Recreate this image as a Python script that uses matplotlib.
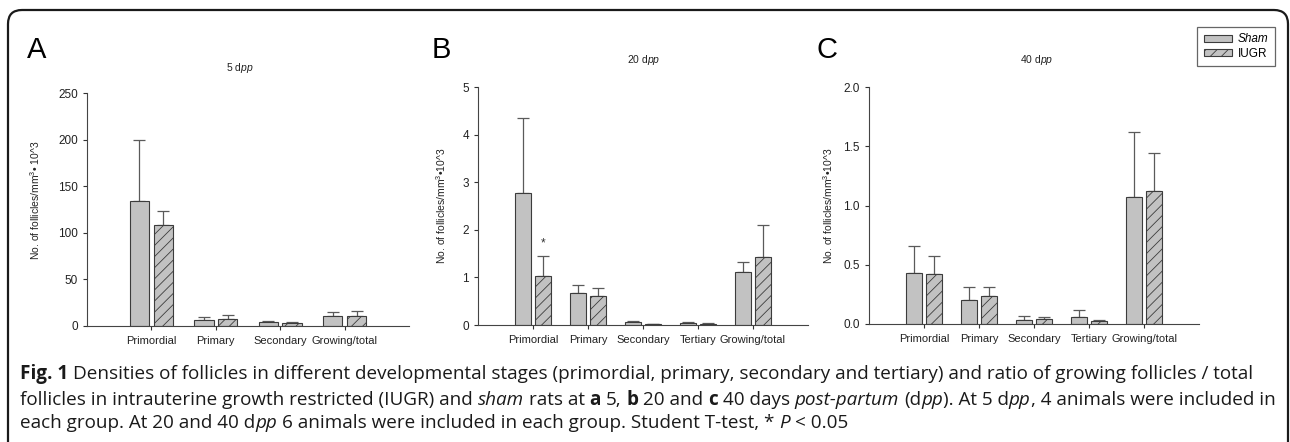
import matplotlib
matplotlib.use("Agg")
from matplotlib import pyplot as plt
from matplotlib.patches import FancyBboxPatch, Patch
from matplotlib.transforms import IdentityTransform
import numpy as np

plt.rcParams['font.family'] = ['Liberation Sans', 'DejaVu Sans']
plt.rcParams['mathtext.fontset'] = 'custom'
plt.rcParams['mathtext.rm'] = 'Liberation Sans'
plt.rcParams['mathtext.it'] = 'Liberation Sans:italic'
plt.rcParams['mathtext.default'] = 'regular'
plt.rcParams['hatch.linewidth'] = 0.6

# Panel A: 5 dpp
cats_a = ["Primordial", "Primary", "Secondary", "Growing/total"]
sham_a = [134.5, 6.5, 4.0, 10.4]
sham_a_err = [65.3, 3.5, 1.0, 4.6]
iugr_a = [108.0, 7.9, 3.2, 11.1]
iugr_a_err = [15.0, 3.6, 1.1, 4.9]

# Panel B: 20 dpp
cats_b = ["Primordial", "Primary", "Secondary", "Tertiary", "Growing/total"]
sham_b = [2.77, 0.67, 0.056, 0.05, 1.11]
sham_b_err = [1.58, 0.16, 0.034, 0.02, 0.21]
iugr_b = [1.02, 0.60, 0.02, 0.03, 1.43]
iugr_b_err = [0.42, 0.18, 0.005, 0.015, 0.67]

# Panel C: 40 dpp
cats_c = ["Primordial", "Primary", "Secondary", "Tertiary", "Growing/total"]
sham_c = [0.43, 0.20, 0.034, 0.062, 1.074]
sham_c_err = [0.23, 0.11, 0.033, 0.056, 0.546]
iugr_c = [0.42, 0.235, 0.042, 0.025, 1.122]
iugr_c_err = [0.15, 0.075, 0.017, 0.011, 0.318]

W, H = 1290, 442
fig = plt.figure(figsize=(W / 100, H / 100), dpi=100)

BAR_FC = '#c2c2c2'
EDGE = '#3c3c3c'
ERR_C = '#5a5a5a'


def px_axes(left, top, right, bottom):
    return fig.add_axes([left / W, 1 - bottom / H, (right - left) / W, (bottom - top) / H])


def draw_panel(ax, cats, sham, sham_err, iugr, iugr_err, ymax, yticks, ylabel):
    x = np.arange(1, len(cats) + 1)
    off, bw = 0.185, 0.3
    ax.bar(x - off, sham, bw, color=BAR_FC, edgecolor=EDGE, linewidth=0.8, zorder=2)
    ax.bar(x + off, iugr, bw, color=BAR_FC, edgecolor=EDGE, linewidth=0.8,
           hatch='///', zorder=2)
    ax.errorbar(x - off, sham, yerr=[np.zeros(len(x)), sham_err], fmt='none',
                ecolor=ERR_C, elinewidth=0.9, capsize=4, capthick=0.9, zorder=1)
    ax.errorbar(x + off, iugr, yerr=[np.zeros(len(x)), iugr_err], fmt='none',
                ecolor=ERR_C, elinewidth=0.9, capsize=4, capthick=0.9, zorder=1)
    ax.set_xlim(0, len(cats) + 1)
    ax.set_ylim(0, ymax)
    ax.set_xticks(x)
    ax.set_xticklabels(cats, fontsize=8)
    ax.set_yticks(yticks)
    ax.tick_params(axis='both', direction='out', length=3, width=0.8,
                   colors='#333333', labelcolor='#222222')
    ax.tick_params(axis='x', pad=4.5)
    ax.tick_params(axis='y', labelsize=8.5)
    for s in ['top', 'right']:
        ax.spines[s].set_visible(False)
    for s in ['left', 'bottom']:
        ax.spines[s].set_color('#444444')
        ax.spines[s].set_linewidth(0.8)
    ax.set_ylabel(ylabel, fontsize=7.5, color='#222222')
    return x, off


ax_a = px_axes(87, 93, 409, 326)
draw_panel(ax_a, cats_a, sham_a, sham_a_err, iugr_a, iugr_a_err, 250,
           [0, 50, 100, 150, 200, 250], r'No. of follicles/mm$^{3}$• 10^3')
ax_a.yaxis.set_label_coords(-0.14, 0.54)

ax_b = px_axes(478, 87, 808, 325)
xb, offb = draw_panel(ax_b, cats_b, sham_b, sham_b_err, iugr_b, iugr_b_err, 5,
                      [0, 1, 2, 3, 4, 5], r'No. of follicles/mm$^{3}$•10^3')
ax_b.yaxis.set_label_coords(-0.09, 0.5)
ax_b.text(xb[0] + offb, 1.72, '*', ha='center', va='center', fontsize=8.5, color='#333333')

ax_c = px_axes(869, 87, 1199, 324)
draw_panel(ax_c, cats_c, sham_c, sham_c_err, iugr_c, iugr_c_err, 2.0,
           [0.0, 0.5, 1.0, 1.5, 2.0], r'No. of follicles/mm$^{3}$•10^3')
ax_c.set_yticklabels(['0.0', '0.5', '1.0', '1.5', '2.0'])
ax_c.yaxis.set_label_coords(-0.103, 0.5)

# panel letters and titles
for lx, letter in [(27, 'A'), (432, 'B'), (817, 'C')]:
    fig.text(lx / W, 1 - 50 / H, letter, fontsize=21, ha='left', va='center')
for tx, ty, num in [(240, 68, '5'), (644, 60, '20'), (1037, 60, '40')]:
    fig.text(tx / W, 1 - ty / H, num + r' d$\it{pp}$', fontsize=7.5,
             ha='center', va='center', color='#222222')

# legend
handles = [Patch(facecolor=BAR_FC, edgecolor=EDGE, linewidth=0.8),
           Patch(facecolor=BAR_FC, edgecolor=EDGE, linewidth=0.8, hatch='///')]
leg = fig.legend(handles, ['Sham', 'IUGR'], loc='upper right',
                 bbox_to_anchor=(1275 / W, 1 - 27 / H), fontsize=8.5,
                 handlelength=2.4, handleheight=0.6, handletextpad=0.5,
                 borderpad=0.55, labelspacing=0.2, borderaxespad=0,
                 fancybox=False, edgecolor='#666666', framealpha=1)
leg.get_frame().set_linewidth(0.9)
leg.get_texts()[0].set_fontstyle('italic')

# outer rounded border
border = FancyBboxPatch((8, -40), 1280, H - 10 + 40,
                        boxstyle='round,pad=0,rounding_size=14',
                        transform=IdentityTransform(), facecolor='none',
                        edgecolor='#1a1a1a', linewidth=1.6)
fig.patches.append(border)

# caption with mixed styles
CAP_FONT = ['Open Sans', 'DejaVu Sans']
CAP_FS = 13.6
renderer = fig.canvas.get_renderer()


def text_width(s, **kw):
    t = fig.text(0, 0, s, fontsize=CAP_FS, family=CAP_FONT, **kw)
    w = t.get_window_extent(renderer).width
    t.remove()
    return w


space_w = text_width('a a') - text_width('aa')


def draw_line(y_px, segments):
    x = 20.0
    for s, kw in segments:
        lead = len(s) - len(s.lstrip(' '))
        trail = len(s) - len(s.rstrip(' '))
        x += lead * space_w
        core = s.strip(' ')
        if core:
            t = fig.text(x / W, 1 - y_px / H, core, fontsize=CAP_FS, family=CAP_FONT,
                         va='center', ha='left', color='#1a1a1a', **kw)
            x += t.get_window_extent(renderer).width
        x += trail * space_w


R, B, I = {}, {'fontweight': 'bold'}, {'fontstyle': 'italic'}
draw_line(374, [('Fig. 1', B),
                (' Densities of follicles in different developmental stages (primordial, primary, '
                 'secondary and tertiary) and ratio of growing follicles / total', R)])
draw_line(400, [('follicles in intrauterine growth restricted (IUGR) and ', R), ('sham', I),
                (' rats at ', R), ('a', B), (' 5, ', R), ('b', B), (' 20 and ', R), ('c', B),
                (' 40 days ', R), ('post-partum', I), (' (d', R), ('pp', I), ('). At 5 d', R),
                ('pp', I), (', 4 animals were included in', R)])
draw_line(423, [('each group. At 20 and 40 d', R), ('pp', I),
                (' 6 animals were included in each group. Student T-test, * ', R), ('P', I),
                (' < 0.05', R)])

fig.savefig('out.png', dpi=100)
